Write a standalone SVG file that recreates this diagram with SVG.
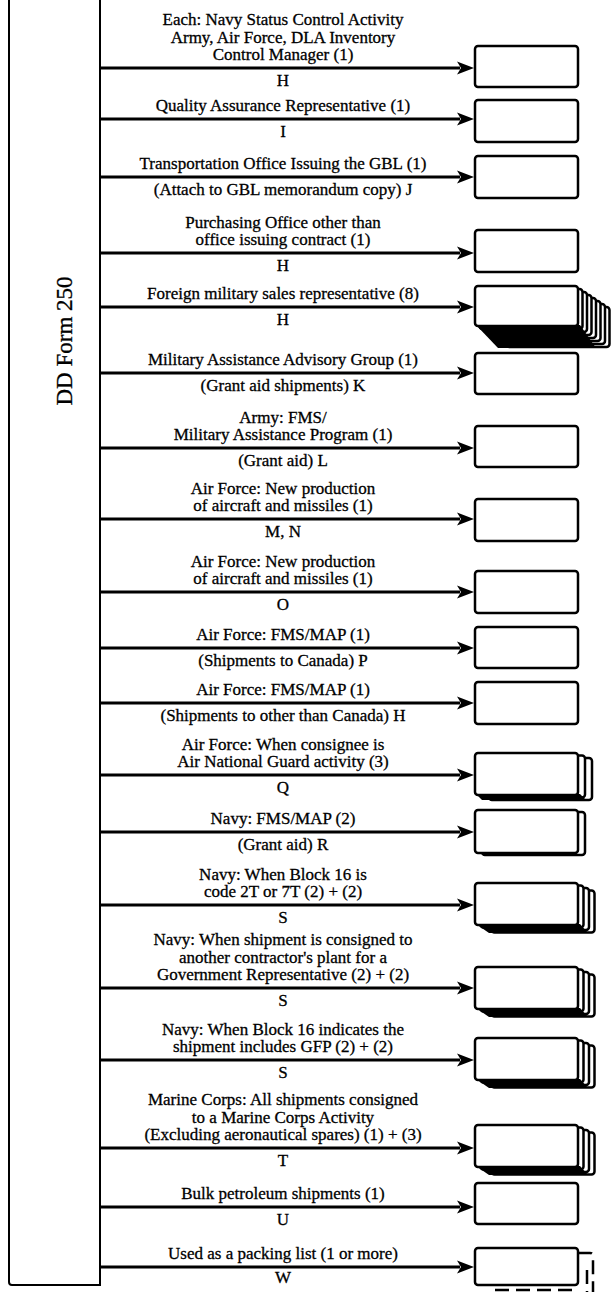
<svg xmlns="http://www.w3.org/2000/svg" width="611" height="1292" viewBox="0 0 611 1292">
<style>
.t{font-family:"Liberation Serif","Times New Roman",serif;font-size:17px;fill:#000;stroke:#000;stroke-width:0.3;text-anchor:middle}
.ttl{font-family:"Liberation Serif","Times New Roman",serif;font-size:23px;fill:#000;stroke:#000;stroke-width:0.3;text-anchor:middle}
.box{fill:#fff;stroke:#000;stroke-width:2.5}
.sh{fill:#fff;stroke:#000;stroke-width:2.5}
.shadow{fill:#000;stroke:none}
.arr{stroke:#000;stroke-width:3;fill:none;marker-end:url(#ah)}
.frame{fill:none;stroke:#000;stroke-width:2}
.dash{fill:none;stroke:#000;stroke-width:2.5;stroke-dasharray:14 7}
</style>
<defs>
<marker id="ah" markerUnits="userSpaceOnUse" markerWidth="18" markerHeight="14" refX="3" refY="7" orient="auto">
<path d="M0,0.5 L17,7 L0,13.5 L4,7 z" fill="#000"/>
</marker>
</defs>

<g id="dd-form-250">
<path class="frame" d="M9,0 V1282 Q9,1285 12,1285 H100 V0"/>
<text class="ttl" transform="translate(72,341) rotate(-90)">DD Form 250</text>
</g>

<g id="connectors">
<line class="arr" x1="100" y1="68" x2="460" y2="68"/>
<line class="arr" x1="100" y1="119" x2="460" y2="119"/>
<line class="arr" x1="100" y1="177" x2="460" y2="177"/>
<line class="arr" x1="100" y1="253" x2="460" y2="253"/>
<line class="arr" x1="100" y1="307" x2="460" y2="307"/>
<line class="arr" x1="100" y1="373" x2="460" y2="373"/>
<line class="arr" x1="100" y1="448" x2="460" y2="448"/>
<line class="arr" x1="100" y1="519" x2="460" y2="519"/>
<line class="arr" x1="100" y1="592" x2="460" y2="592"/>
<line class="arr" x1="100" y1="648" x2="460" y2="648"/>
<line class="arr" x1="100" y1="703" x2="460" y2="703"/>
<line class="arr" x1="100" y1="775" x2="460" y2="775"/>
<line class="arr" x1="100" y1="832" x2="460" y2="832"/>
<line class="arr" x1="100" y1="905" x2="460" y2="905"/>
<line class="arr" x1="100" y1="988" x2="460" y2="988"/>
<line class="arr" x1="100" y1="1060" x2="460" y2="1060"/>
<line class="arr" x1="100" y1="1148" x2="460" y2="1148"/>
<line class="arr" x1="100" y1="1207" x2="460" y2="1207"/>
<line class="arr" x1="100" y1="1267" x2="460" y2="1267"/>
</g>

<g id="labels">
<text class="t" x="283" y="25">Each: Navy Status Control Activity</text>
<text class="t" x="283" y="42.5">Army, Air Force, DLA Inventory</text>
<text class="t" x="283" y="60">Control Manager (1)</text>
<text class="t" x="283" y="86">H</text>

<text class="t" x="283" y="111">Quality Assurance Representative (1)</text>
<text class="t" x="283" y="137">I</text>

<text class="t" x="283" y="169">Transportation Office Issuing the GBL (1)</text>
<text class="t" x="283" y="195">(Attach to GBL memorandum copy) J</text>

<text class="t" x="283" y="227.5">Purchasing Office other than</text>
<text class="t" x="283" y="245">office issuing contract (1)</text>
<text class="t" x="283" y="271">H</text>

<text class="t" x="283" y="299">Foreign military sales representative (8)</text>
<text class="t" x="283" y="325">H</text>

<text class="t" x="283" y="365">Military Assistance Advisory Group (1)</text>
<text class="t" x="283" y="391">(Grant aid shipments) K</text>

<text class="t" x="283" y="422.5">Army: FMS/</text>
<text class="t" x="283" y="440">Military Assistance Program (1)</text>
<text class="t" x="283" y="466">(Grant aid) L</text>

<text class="t" x="283" y="493.5">Air Force: New production</text>
<text class="t" x="283" y="511">of aircraft and missiles (1)</text>
<text class="t" x="283" y="537">M, N</text>

<text class="t" x="283" y="566.5">Air Force: New production</text>
<text class="t" x="283" y="584">of aircraft and missiles (1)</text>
<text class="t" x="283" y="610">O</text>

<text class="t" x="283" y="640">Air Force: FMS/MAP (1)</text>
<text class="t" x="283" y="666">(Shipments to Canada) P</text>

<text class="t" x="283" y="695">Air Force: FMS/MAP (1)</text>
<text class="t" x="283" y="721">(Shipments to other than Canada) H</text>

<text class="t" x="283" y="749.5">Air Force: When consignee is</text>
<text class="t" x="283" y="767">Air National Guard activity (3)</text>
<text class="t" x="283" y="793">Q</text>

<text class="t" x="283" y="824">Navy: FMS/MAP (2)</text>
<text class="t" x="283" y="850">(Grant aid) R</text>

<text class="t" x="283" y="879.5">Navy: When Block 16 is</text>
<text class="t" x="283" y="897">code 2T or 7T (2) + (2)</text>
<text class="t" x="283" y="923">S</text>

<text class="t" x="283" y="945">Navy: When shipment is consigned to</text>
<text class="t" x="283" y="962.5">another contractor's plant for a</text>
<text class="t" x="283" y="980">Government Representative (2) + (2)</text>
<text class="t" x="283" y="1006">S</text>

<text class="t" x="283" y="1034.5">Navy: When Block 16 indicates the</text>
<text class="t" x="283" y="1052">shipment includes GFP (2) + (2)</text>
<text class="t" x="283" y="1078">S</text>

<text class="t" x="283" y="1105">Marine Corps: All shipments consigned</text>
<text class="t" x="283" y="1122.5">to a Marine Corps Activity</text>
<text class="t" x="283" y="1140">(Excluding aeronautical spares) (1) + (3)</text>
<text class="t" x="283" y="1166">T</text>

<text class="t" x="283" y="1199">Bulk petroleum shipments (1)</text>
<text class="t" x="283" y="1225">U</text>

<text class="t" x="283" y="1259">Used as a packing list (1 or more)</text>
<text class="t" x="283" y="1283">W</text>
</g>

<g id="box-1"><rect class="box" x="475" y="46" width="103" height="41" rx="3"/></g>
<g id="box-2"><rect class="box" x="475" y="100" width="103" height="42" rx="3"/></g>
<g id="box-3"><rect class="box" x="475" y="156" width="103" height="42" rx="3"/></g>
<g id="box-4"><rect class="box" x="475" y="230" width="103" height="42" rx="3"/></g>
<g id="box-5">
<rect class="sh" x="506.5" y="307" width="103" height="40" rx="3"/>
<rect class="sh" x="502" y="304" width="103" height="40" rx="3"/>
<rect class="sh" x="497.5" y="301" width="103" height="40" rx="3"/>
<rect class="sh" x="493" y="298" width="103" height="40" rx="3"/>
<rect class="sh" x="488.5" y="295" width="103" height="40" rx="3"/>
<rect class="sh" x="484" y="292" width="103" height="40" rx="3"/>
<rect class="sh" x="479.5" y="289" width="103" height="40" rx="3"/>
<polygon class="shadow" points="476,325 498,348 596,348 580,325"/>
<rect class="box" x="475" y="286" width="103" height="40" rx="3"/>
</g>
<g id="box-6"><rect class="box" x="475" y="353" width="103" height="41" rx="3"/></g>
<g id="box-7"><rect class="box" x="475" y="426" width="103" height="41" rx="3"/></g>
<g id="box-8"><rect class="box" x="475" y="499" width="103" height="42" rx="3"/></g>
<g id="box-9"><rect class="box" x="475" y="571" width="103" height="42" rx="3"/></g>
<g id="box-10"><rect class="box" x="475" y="627" width="103" height="41" rx="3"/></g>
<g id="box-11"><rect class="box" x="475" y="682" width="103" height="42" rx="3"/></g>
<g id="box-12">
<rect class="sh" x="489" y="758" width="103" height="42" rx="3"/>
<rect class="sh" x="482" y="755.5" width="103" height="42" rx="3"/>
<polygon class="shadow" points="476,794 482,800 586,800 580,794"/>
<rect class="box" x="475" y="753" width="103" height="42" rx="3"/>
</g>
<g id="box-13">
<rect class="sh" x="482" y="812" width="103" height="43" rx="3"/>
<rect class="box" x="475" y="810" width="103" height="43" rx="3"/>
</g>
<g id="box-14">
<rect class="sh" x="491.5" y="890.5" width="103" height="42" rx="3"/>
<rect class="sh" x="486" y="888" width="103" height="42" rx="3"/>
<rect class="sh" x="480.5" y="885.5" width="103" height="42" rx="3"/>
<polygon class="shadow" points="476,924 489,933 588,933 580,924"/>
<rect class="box" x="475" y="883" width="103" height="42" rx="3"/>
</g>
<g id="box-15">
<rect class="sh" x="491.5" y="974.5" width="103" height="42" rx="3"/>
<rect class="sh" x="486" y="972" width="103" height="42" rx="3"/>
<rect class="sh" x="480.5" y="969.5" width="103" height="42" rx="3"/>
<polygon class="shadow" points="476,1008 489,1017 588,1017 580,1008"/>
<rect class="box" x="475" y="967" width="103" height="42" rx="3"/>
</g>
<g id="box-16">
<rect class="sh" x="491.5" y="1045.5" width="103" height="42" rx="3"/>
<rect class="sh" x="486" y="1043" width="103" height="42" rx="3"/>
<rect class="sh" x="480.5" y="1040.5" width="103" height="42" rx="3"/>
<polygon class="shadow" points="476,1079 489,1088 588,1088 580,1079"/>
<rect class="box" x="475" y="1038" width="103" height="42" rx="3"/>
</g>
<g id="box-17">
<rect class="sh" x="491.5" y="1132.5" width="103" height="42" rx="3"/>
<rect class="sh" x="486" y="1130" width="103" height="42" rx="3"/>
<rect class="sh" x="480.5" y="1127.5" width="103" height="42" rx="3"/>
<polygon class="shadow" points="476,1166 489,1175 588,1175 580,1166"/>
<rect class="box" x="475" y="1125" width="103" height="42" rx="3"/>
</g>
<g id="box-18"><rect class="box" x="475" y="1183" width="103" height="41" rx="3"/></g>
<g id="box-19">
<path class="dash" d="M578,1253 H590 Q593,1253 593,1256 V1292"/>
<line class="dash" x1="587" y1="1270" x2="587" y2="1292"/>
<line class="dash" x1="495" y1="1290" x2="578" y2="1290"/>
<rect class="box" x="475" y="1248" width="103" height="37" rx="3"/>
</g>
</svg>
